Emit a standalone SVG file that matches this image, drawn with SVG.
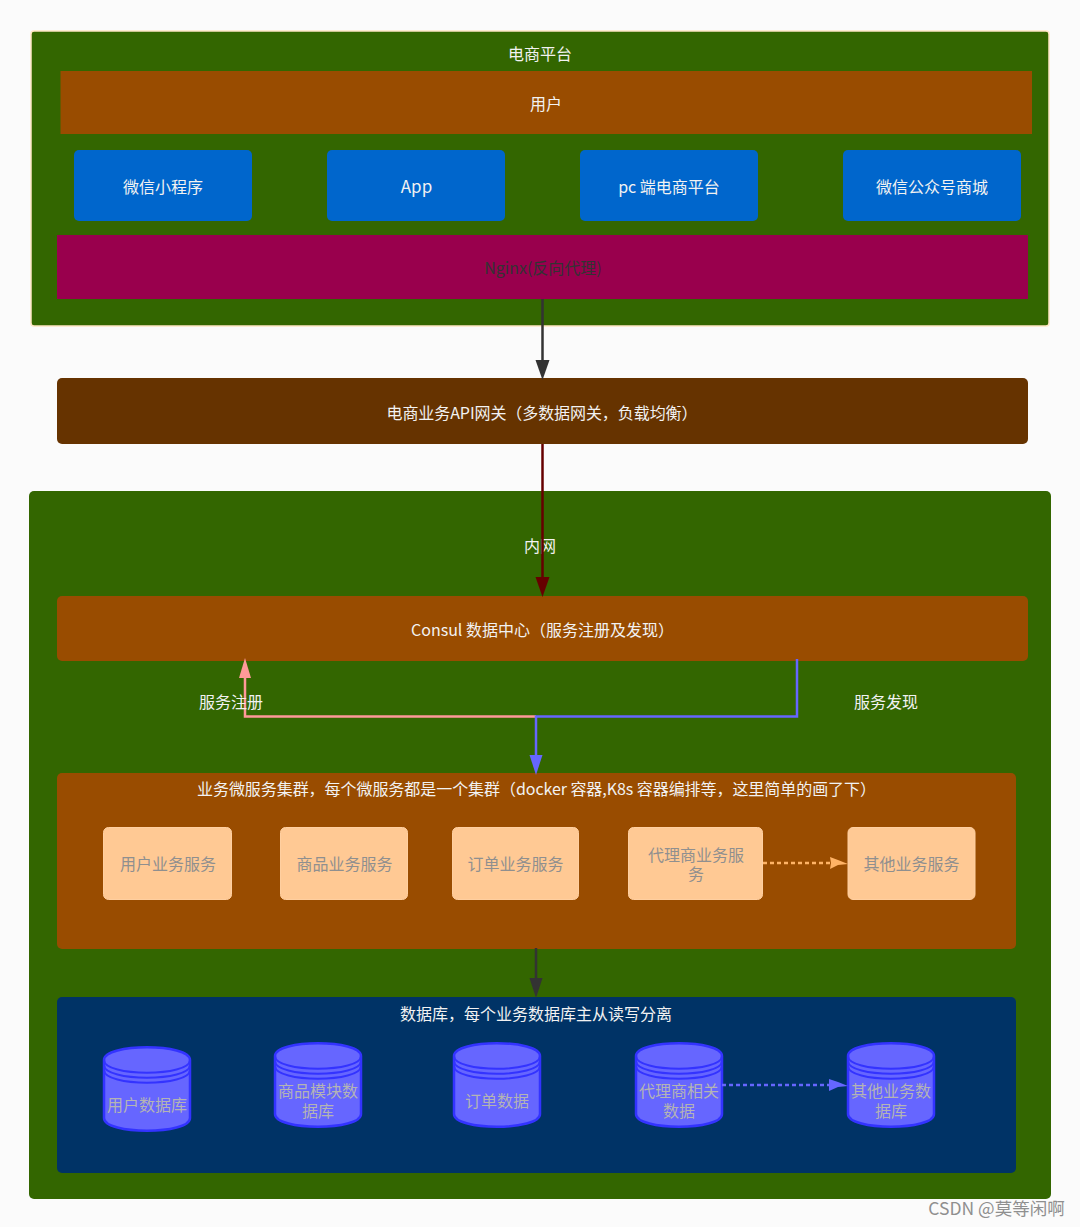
<svg xmlns="http://www.w3.org/2000/svg" width="1080" height="1227" viewBox="0 0 1080 1227">
<style>
text{font-family:"Noto Sans CJK SC","Noto Sans","Liberation Sans",sans-serif;font-size:16px;text-anchor:middle;fill:#f2f2f2}
.svc text,text.svc{fill:#8f8f8f}
.svcbox{fill:#ffc994;stroke:#ffcfa0;stroke-width:1}
.blue{fill:#0066cc}
.db text{fill:#b4b4b4}
.dbb{fill:#6666ff;stroke:#3333ff;stroke-width:2.500}
.dbl{fill:none;stroke:#3333ff;stroke-width:2}
.c{fill:none}
</style>
<rect width="1080" height="1227" fill="#fbfbfb"/>
<g id="platform"><rect x="31" y="31" width="1018" height="295" rx="3" fill="#336600" stroke="#ffe6c4" stroke-width="1.500"/><text x="540" y="60">电商平台</text></g>
<g id="users"><rect x="60.500" y="71" width="971.500" height="63" fill="#994c00"/><text x="546" y="109.500">用户</text></g>
<g id="wxapp"><rect class="blue" x="74" y="150" width="178" height="71" rx="5"/><text x="163" y="193">微信小程序</text></g>
<g id="app"><rect class="blue" x="327" y="150" width="178" height="71" rx="5"/><text x="416.500" y="193" style="font-size:17px">App</text></g>
<g id="pc"><rect class="blue" x="580" y="150" width="178" height="71" rx="5"/><text x="669" y="193">pc 端电商平台</text></g>
<g id="wxmall"><rect class="blue" x="843" y="150" width="178" height="71" rx="5"/><text x="932" y="193">微信公众号商城</text></g>
<g id="nginx"><rect x="57" y="235" width="971" height="64" fill="#99004d"/><text x="543" y="274" style="fill:#333">Nginx(反向代理)</text></g>
<g id="gateway"><rect x="57" y="378" width="971" height="66" rx="5" fill="#663300"/><text x="542" y="418.500" textLength="311" lengthAdjust="spacing">电商业务API网关（多数据网关，负载均衡）</text></g>
<g id="intranet"><rect x="29" y="491" width="1022" height="708" rx="5" fill="#336600"/><text x="540" y="552">内网</text></g>
<g id="consul"><rect x="57" y="596" width="971" height="65" rx="5" fill="#994c00"/><text x="542.500" y="635.500" textLength="263" lengthAdjust="spacing">Consul 数据中心（服务注册及发现）</text></g>
<g id="cluster"><rect x="57" y="773" width="959" height="176" rx="5" fill="#994c00"/><text x="536.500" y="795" textLength="679" lengthAdjust="spacing">业务微服务集群，每个微服务都是一个集群（docker 容器,K8s 容器编排等，这里简单的画了下）</text></g>
<g id="svc1" class="svc"><rect class="svcbox" x="103.500" y="827.500" width="128" height="72" rx="5"/><text x="168" y="870">用户业务服务</text></g>
<g id="svc2" class="svc"><rect class="svcbox" x="280.500" y="827.500" width="127" height="72" rx="5"/><text x="344.500" y="870">商品业务服务</text></g>
<g id="svc3" class="svc"><rect class="svcbox" x="452.500" y="827.500" width="126" height="72" rx="5"/><text x="515.500" y="870">订单业务服务</text></g>
<g id="svc4" class="svc"><rect class="svcbox" x="628.500" y="827.500" width="134" height="72" rx="5"/><text x="696" y="861">代理商业务服</text><text x="696" y="880">务</text></g>
<g id="svc5" class="svc"><rect class="svcbox" x="848" y="827.500" width="127" height="72" rx="5"/><text x="911.500" y="870">其他业务服务</text></g>
<g id="dbgroup"><rect x="57" y="997" width="959" height="176" rx="5" fill="#003366"/><text x="536" y="1020">数据库，每个业务数据库主从读写分离</text></g>
<g id="db1" class="db"><path class="dbb" d="M104 1060C104 1043 190 1043 190 1060V1118C190 1135 104 1135 104 1118Z"/><path class="dbl" d="M104 1060C104 1077 190 1077 190 1060M104 1065C104 1082 190 1082 190 1065M104 1070C104 1087 190 1087 190 1070"/><text x="147" y="1111">用户数据库</text></g>
<g id="db2" class="db"><path class="dbb" d="M275 1056C275 1039 361 1039 361 1056V1114C361 1131 275 1131 275 1114Z"/><path class="dbl" d="M275 1056C275 1073 361 1073 361 1056M275 1061C275 1078 361 1078 361 1061M275 1066C275 1083 361 1083 361 1066"/><text x="318" y="1097">商品模块数</text><text x="318" y="1117">据库</text></g>
<g id="db3" class="db"><path class="dbb" d="M454 1056C454 1039 540 1039 540 1056V1114C540 1131 454 1131 454 1114Z"/><path class="dbl" d="M454 1056C454 1073 540 1073 540 1056M454 1061C454 1078 540 1078 540 1061M454 1066C454 1083 540 1083 540 1066"/><text x="497" y="1107">订单数据</text></g>
<g id="db4" class="db"><path class="dbb" d="M636 1056C636 1039 722 1039 722 1056V1114C722 1131 636 1131 636 1114Z"/><path class="dbl" d="M636 1056C636 1073 722 1073 722 1056M636 1061C636 1078 722 1078 722 1061M636 1066C636 1083 722 1083 722 1066"/><text x="679" y="1097">代理商相关</text><text x="679" y="1117">数据</text></g>
<g id="db5" class="db"><path class="dbb" d="M848 1056C848 1039 934 1039 934 1056V1114C934 1131 848 1131 848 1114Z"/><path class="dbl" d="M848 1056C848 1073 934 1073 934 1056M848 1061C848 1078 934 1078 934 1061M848 1066C848 1083 934 1083 934 1066"/><text x="891" y="1097">其他业务数</text><text x="891" y="1117">据库</text></g>
<g id="connectors">
<path class="c" d="M542.500 299V362" stroke="#333" stroke-width="2.500"/><path d="M535.500 360H549.500L542.500 380Z" fill="#333"/>
<path class="c" d="M542.500 444V580" stroke="#660000" stroke-width="2.500"/><path d="M535.500 577H549.500L542.500 597Z" fill="#660000"/>
<path class="c" d="M245 675V716.500H536" stroke="#ff9999" stroke-width="2.500"/><path d="M239 678H251L245 658Z" fill="#ff9999"/>
<path class="c" d="M797 659V716.500H536V757" stroke="#6666ff" stroke-width="2.500"/><path d="M529.500 755H542.500L536 775Z" fill="#6666ff"/>
<path class="c" d="M536 948V980" stroke="#333" stroke-width="2.500"/><path d="M529.500 978H542.500L536 998Z" fill="#333"/>
<path class="c" d="M763 863H830" stroke="#ffb366" stroke-width="2.500" stroke-dasharray="4 3"/><path d="M830 857L838 860L848 864L838 865L830 869L831 863Z" fill="#ffb366"/>
<path class="c" d="M722 1085H830" stroke="#6666ff" stroke-width="2.500" stroke-dasharray="4 3"/><path d="M829 1079L838 1082L848 1086L838 1087L829 1091Z" fill="#6666ff"/>
</g>
<text x="231" y="708">服务注册</text>
<text x="886" y="708">服务发现</text>
<text x="996.500" y="1215" style="font-size:17.500px;fill:#8f8f8f">CSDN @莫等闲啊</text>
</svg>
